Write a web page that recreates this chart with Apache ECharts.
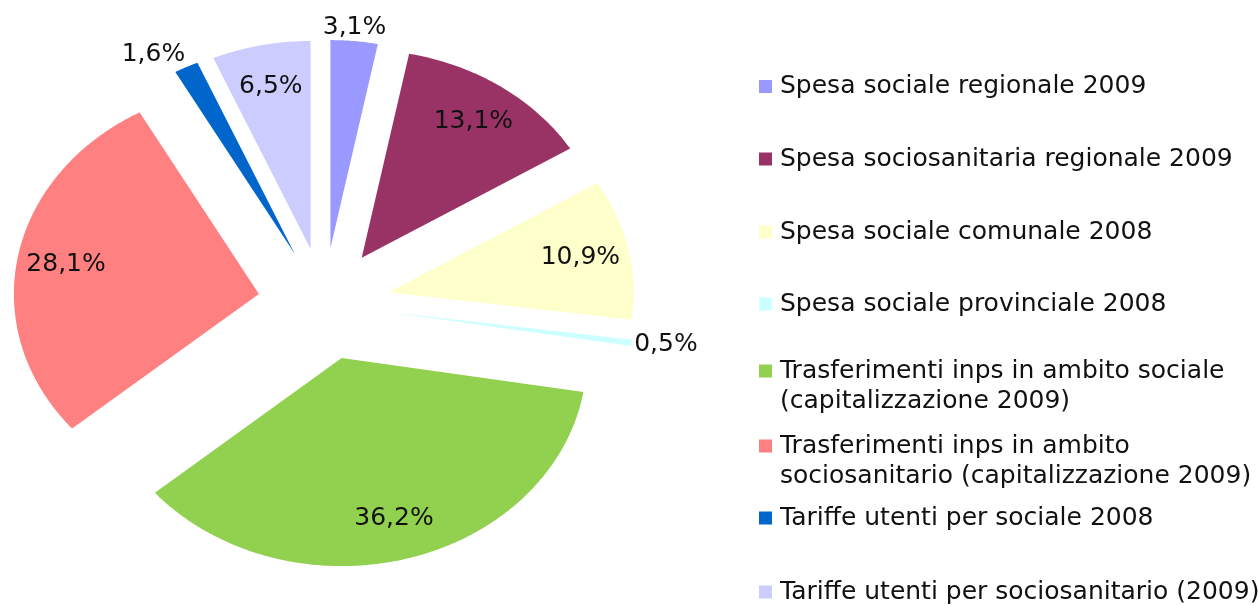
<!DOCTYPE html>
<html>
<head>
<meta charset="utf-8">
<script src="https://cdn.jsdelivr.net/npm/echarts@6/dist/echarts.min.js"></script>
<style>
    html, body { margin: 0; padding: 0; background: #fff; }
    #chart { width: 1258px; height: 605px; }
</style>
</head>
<body>
<div id="chart"></div>
<script>
// voci (in senso orario a partire da ore 12)
var categories = [
    'Spesa sociale regionale 2009',
    'Spesa sociosanitaria regionale 2009',
    'Spesa sociale comunale 2008',
    'Spesa sociale provinciale 2008',
    'Trasferimenti inps in ambito sociale\n(capitalizzazione 2009)',
    'Trasferimenti inps in ambito\nsociosanitario (capitalizzazione 2009)',
    'Tariffe utenti per sociale 2008',
    'Tariffe utenti per sociosanitario (2009)'
];

// quote percentuali
var values = [3.1, 13.1, 10.9, 0.5, 36.2, 28.1, 1.6, 6.5];

var colors = ['#9999FF', '#993366', '#FFFFCC', '#CCFFFF', '#92D050', '#FF8080', '#0066CC', '#CCCCFF'];

// torta "schiacciata" ed esplosa
var cx = 324, cy = 304, rx = 245, ry = 208, explode = 0.27;
var labelFont = '25px "DejaVu Sans"';

// centri verticali delle voci di legenda
var legendCenters = [86.5, 159, 232, 304, 371, 446, 518, 592];

var total = values.reduce(function (a, b) { return a + b; }, 0);

function renderSlice(i) {
    return function (params, api) {
        var before = 0;
        for (var j = 0; j < i; j++) before += values[j];
        var a0 = before / total * 2 * Math.PI;
        var a1 = (before + values[i]) / total * 2 * Math.PI;
        var am = (a0 + a1) / 2;
        var sx = Math.sin(am), sy = -Math.cos(am);

        // spostamento della fetta lungo la bisettrice
        var ox = cx + explode * rx * sx;
        var oy = cy + explode * ry * sy;
        var pts = [[ox, oy]];
        var steps = Math.max(2, Math.ceil((a1 - a0) / 0.01));
        for (var s = 0; s <= steps; s++) {
            var a = a0 + (a1 - a0) * s / steps;
            pts.push([ox + rx * Math.sin(a), oy - ry * Math.cos(a)]);
        }

        var text = values[i].toFixed(1).replace('.', ',') + '%';
        var lx, ly, align = 'center';
        if (values[i] < 5) {
            // etichetta esterna
            lx = cx + 1.28 * rx * sx;
            ly = cy + 1.28 * ry * sy + sy * 12;
            if (Math.abs(sx) > 0.3) align = sx > 0 ? 'left' : 'right';
        } else {
            lx = cx + 1.07 * rx * sx;
            ly = cy + 1.07 * ry * sy;
        }

        return {
            type: 'group',
            children: [
                {
                    type: 'polygon',
                    shape: { points: pts },
                    style: { fill: api.visual('color') }
                },
                {
                    type: 'text',
                    x: lx,
                    y: ly,
                    style: {
                        text: text,
                        font: labelFont,
                        fill: '#111',
                        align: align,
                        verticalAlign: 'middle'
                    }
                }
            ]
        };
    };
}

var chart = echarts.init(document.getElementById('chart'));

var option = {
    animation: false,
    legend: categories.map(function (name, i) {
        var twoLines = name.indexOf('\n') >= 0;
        return {
            data: [name],
            orient: 'vertical',
            left: 759,
            top: legendCenters[i] - (twoLines ? 45 : 15),
            padding: 0,
            itemWidth: 13,
            itemHeight: 13,
            icon: 'rect',
            selectedMode: false,
            // riga vuota in testa: il quadratino resta allineato alla prima riga
            formatter: function (n) { return twoLines ? '\n' + n : n; },
            textStyle: {
                fontFamily: 'DejaVu Sans',
                fontSize: 25,
                color: '#111',
                lineHeight: 30,
                padding: [0, 0, 0, 3]
            }
        };
    }),
    series: categories.map(function (name, i) {
        return {
            type: 'custom',
            name: name,
            coordinateSystem: 'none',
            itemStyle: { color: colors[i] },
            data: [values[i]],
            renderItem: renderSlice(i)
        };
    })
};

chart.setOption(option);
</script>
</body>
</html>
